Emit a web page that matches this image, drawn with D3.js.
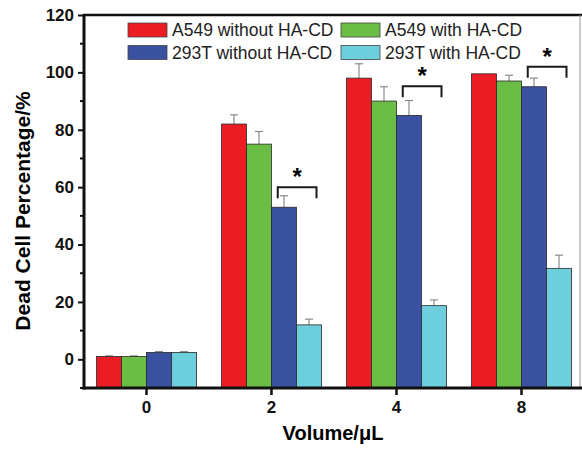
<html>
<head>
  <script src="https://d3js.org/d3.v7.min.js"></script>
  <style>
    body { margin: 0; background: #fff; }
    text { font-family: "Liberation Sans", Arial, sans-serif; }
  </style>
</head>
<body>
<div id="chart"></div>
<script>
  // data
  var volumes = ["0", "2", "4", "8"];
  var seriesNames = ["A549 without HA-CD", "A549 with HA-CD", "293T without HA-CD", "293T with HA-CD"];
  var seriesColors = ["#ec1c24", "#6abd45", "#3a51a2", "#6dcedd"];
  var a549Without = [1.0, 82, 98, 99.5];
  var a549With = [1.0, 75, 90, 97];
  var t293Without = [2.4, 53, 85, 95];
  var t293With = [2.4, 12, 18.7, 31.7];
  var a549WithoutErr = [0.2, 3.2, 5, 0];
  var a549WithErr = [0.2, 4.4, 5, 2];
  var t293WithoutErr = [0.3, 4, 5.2, 3];
  var t293WithErr = [0.3, 2, 2, 4.6];
  // significance brackets: group, top of bracket (value units)
  var sigGroups = ["2", "4", "8"];
  var sigTops = [60, 95.2, 102];
  var yTicks = [0, 20, 40, 60, 80, 100, 120];

  var values = [a549Without, a549With, t293Without, t293With];
  var errors = [a549WithoutErr, a549WithErr, t293WithoutErr, t293WithErr];

  var W = 582, H = 452;
  var svg = d3.select("#chart").append("svg")
    .attr("width", W).attr("height", H);

  var x = d3.scaleBand().domain(volumes).range([84, 584]);
  var inner = d3.scaleBand().domain(d3.range(4)).range([-50, 50]);
  var y = d3.scaleLinear().domain([-10, 120]).range([388, 15]);

  function cx(v) { return x(v) + x.bandwidth() / 2; }

  // flatten into bar records
  var bars = [];
  volumes.forEach(function (v, i) {
    values.forEach(function (s, k) {
      bars.push({ v: v, k: k, val: s[i], err: errors[k][i] });
    });
  });

  // error bars (upper half only)
  var eb = svg.append("g");
  bars.filter(function (d) { return d.err > 0; }).forEach(function (d) {
    var mx = cx(d.v) + inner(d.k) + inner.bandwidth() / 2;
    eb.append("line")
      .attr("x1", mx).attr("x2", mx)
      .attr("y1", y(d.val)).attr("y2", y(d.val + d.err))
      .attr("stroke", "#8a8a8a").attr("stroke-width", 1.2);
    eb.append("line")
      .attr("x1", mx - 4).attr("x2", mx + 4)
      .attr("y1", y(d.val + d.err)).attr("y2", y(d.val + d.err))
      .attr("stroke", "#8a8a8a").attr("stroke-width", 1.2);
  });

  // bars
  svg.append("g").selectAll("rect")
    .data(bars)
    .enter()
    .append("rect")
    .attr("x", function (d) { return cx(d.v) + inner(d.k); })
    .attr("width", inner.bandwidth())
    .attr("y", function (d) { return y(d.val); })
    .attr("height", function (d) { return y(-10) - y(d.val); })
    .attr("fill", function (d) { return seriesColors[d.k]; })
    .attr("stroke", "#2a2a2a")
    .attr("stroke-width", 0.8);

  // significance brackets
  var sg = svg.append("g");
  sigGroups.forEach(function (v, i) {
    var x1 = cx(v) + inner(2) + inner.bandwidth() * 0.25;
    var x2 = cx(v) + inner(3) + inner.bandwidth() * 0.8;
    var yt = y(sigTops[i]);
    sg.append("path")
      .attr("d", "M" + x1 + "," + (yt + 11) + "V" + yt + "H" + x2 + "V" + (yt + 11))
      .attr("fill", "none").attr("stroke", "#1a1a1a").attr("stroke-width", 2);
    sg.append("text")
      .attr("x", (x1 + x2) / 2).attr("y", yt - 2)
      .attr("text-anchor", "middle")
      .style("font-size", "24px").style("font-weight", "bold")
      .text("*");
  });

  // frame: top and right
  svg.append("line").attr("x1", 83).attr("x2", 582).attr("y1", 15).attr("y2", 15)
    .attr("stroke", "#111").attr("stroke-width", 2.5);
  svg.append("line").attr("x1", 580).attr("x2", 580).attr("y1", 15).attr("y2", 388)
    .attr("stroke", "#999").attr("stroke-width", 1);

  // y axis
  var yAxis = svg.append("g")
    .attr("transform", "translate(84,0)")
    .call(d3.axisLeft(y).tickValues(yTicks).tickSize(6).tickPadding(4));
  yAxis.select(".domain").remove();
  yAxis.selectAll("line").attr("stroke", "#111").attr("stroke-width", 2);
  yAxis.selectAll("text")
    .style("font-size", "17px").style("font-weight", "bold")
    .style("font-family", "Liberation Sans, Arial, sans-serif")
    .attr("fill", "#111");
  var minor = d3.range(-10, 121, 20);
  svg.append("g").selectAll("line").data(minor).enter().append("line")
    .attr("x1", 80).attr("x2", 84)
    .attr("y1", function (d) { return y(d); }).attr("y2", function (d) { return y(d); })
    .attr("stroke", "#111").attr("stroke-width", 2);
  svg.append("line").attr("x1", 84).attr("x2", 84).attr("y1", 14).attr("y2", 389.5)
    .attr("stroke", "#111").attr("stroke-width", 3);

  // x axis
  var xAxis = svg.append("g")
    .attr("transform", "translate(0,388)")
    .call(d3.axisBottom(x).tickSize(7).tickPadding(6));
  xAxis.select(".domain").remove();
  xAxis.selectAll("line").attr("stroke", "#111").attr("stroke-width", 2.5);
  xAxis.selectAll("text")
    .style("font-size", "17px").style("font-weight", "bold")
    .style("font-family", "Liberation Sans, Arial, sans-serif")
    .attr("fill", "#111");
  svg.append("line").attr("x1", 82.5).attr("x2", 582).attr("y1", 388).attr("y2", 388)
    .attr("stroke", "#111").attr("stroke-width", 3);

  // axis titles
  svg.append("text")
    .attr("x", 333).attr("y", 440)
    .attr("text-anchor", "middle")
    .style("font-size", "20px").style("font-weight", "bold")
    .text("Volume/\u03bcL");
  svg.append("text")
    .attr("transform", "translate(30,211) rotate(-90)")
    .attr("text-anchor", "middle")
    .style("font-size", "21px").style("font-weight", "bold")
    .text("Dead Cell Percentage/%");

  // legend, two columns
  var legX = [128, 341];
  var legY = [23, 45.5];
  var leg = svg.append("g");
  seriesNames.forEach(function (name, k) {
    var lx = legX[k % 2], ly = legY[Math.floor(k / 2)];
    leg.append("rect")
      .attr("x", lx).attr("y", ly).attr("width", 39).attr("height", 14)
      .attr("fill", seriesColors[k]).attr("stroke", "#444").attr("stroke-width", 0.8);
    leg.append("text")
      .attr("x", lx + 44).attr("y", ly + 13)
      .style("font-size", "17.5px").attr("fill", "#222")
      .text(name);
  });
</script>
</body>
</html>
